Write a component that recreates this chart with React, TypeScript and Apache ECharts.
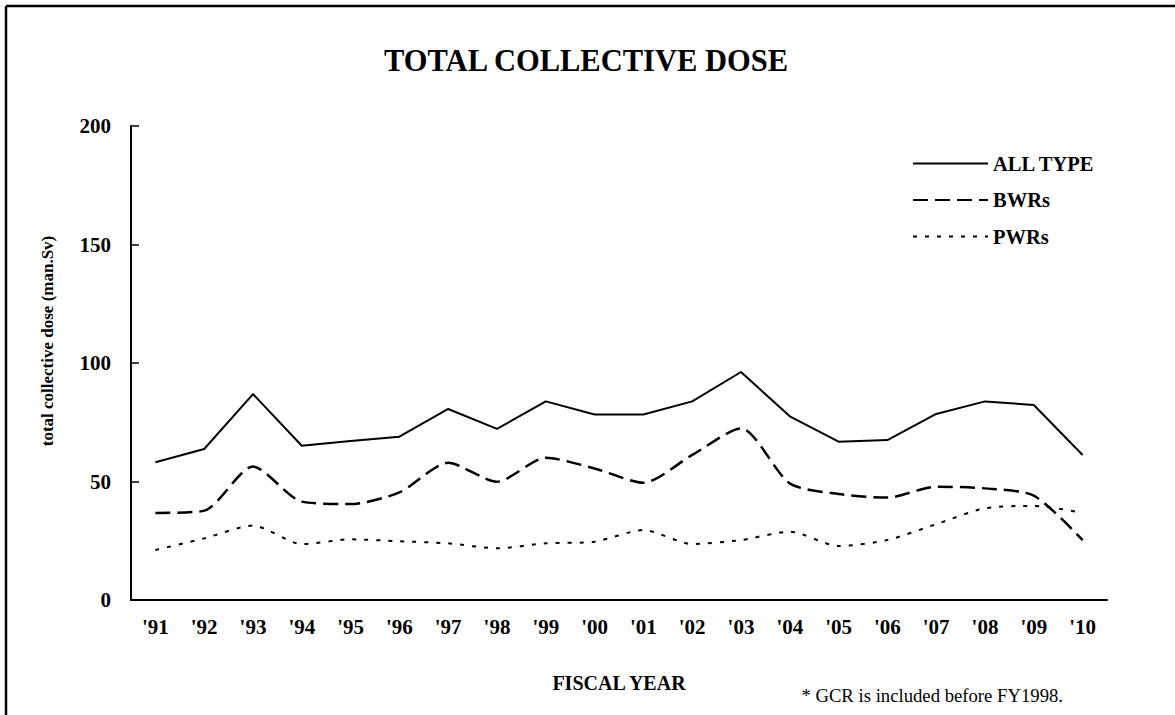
import React, { useEffect, useRef } from "react";
import * as echarts from "echarts";

const years = ["'91", "'92", "'93", "'94", "'95", "'96", "'97", "'98", "'99", "'00", "'01", "'02", "'03", "'04", "'05", "'06", "'07", "'08", "'09", "'10"];
const allType = [58.1, 63.7, 86.9, 65.1, 67.1, 68.9, 80.6, 72.2, 83.8, 78.3, 78.3, 83.8, 96.2, 77.5, 66.8, 67.5, 78.5, 83.8, 82.3, 61.2];
const bwrs = [36.7, 37.7, 56.3, 41.5, 40.5, 45.4, 57.9, 49.9, 60.0, 55.5, 49.5, 61.2, 72.4, 49.2, 44.7, 43.2, 47.8, 47.1, 44.0, 25.3];
const pwrs = [21.1, 26.0, 31.4, 23.6, 25.6, 24.8, 23.9, 21.8, 23.9, 24.6, 29.5, 23.6, 25.3, 28.8, 22.8, 25.3, 32.0, 38.7, 39.7, 36.8];
const seriesNames = ["ALL TYPE", "BWRs", "PWRs"];

const FONT = "'Liberation Serif', 'Times New Roman', serif";

export default function App() {
  const ref = useRef<HTMLDivElement>(null);
  useEffect(() => {
    if (!ref.current) return;
    const chart = echarts.init(ref.current, null, { renderer: "svg" });
    chart.setOption({
      animation: false,
      backgroundColor: "#fff",
      textStyle: { fontFamily: FONT, color: "#000" },
      title: {
        text: "TOTAL COLLECTIVE DOSE",
        left: 581,
        top: 40,
        textAlign: "center",
        textStyle: { fontFamily: FONT, fontSize: 30.5, fontWeight: "bold", color: "#000" },
      },
      legend: {
        orient: "vertical",
        left: 907,
        top: 148,
        itemWidth: 75,
        itemHeight: 20,
        itemGap: 15.5,
        data: seriesNames,
        itemStyle: { opacity: 0 },
        textStyle: { fontFamily: FONT, fontSize: 20.5, fontWeight: "bold", color: "#000" },
      },
      grid: { left: 131, right: 68, top: 126, bottom: 115, containLabel: false },
      xAxis: {
        type: "category",
        data: years,
        boundaryGap: true,
        axisLine: { lineStyle: { color: "#000", width: 2 } },
        axisTick: { inside: true, length: 6, lineStyle: { color: "#000", width: 1.5 } },
        axisLabel: { margin: 16, fontFamily: FONT, fontSize: 21, fontWeight: "bold", color: "#000", interval: 0 },
        name: "FISCAL YEAR",
        nameLocation: "middle",
        nameGap: 73,
        nameTextStyle: { fontFamily: FONT, fontSize: 20, fontWeight: "bold", color: "#000" },
      },
      yAxis: {
        type: "value",
        min: 0,
        max: 200,
        interval: 50,
        splitLine: { show: false },
        axisLine: { show: true, lineStyle: { color: "#000", width: 2 } },
        axisTick: { show: true, inside: true, length: 8, lineStyle: { color: "#000", width: 1.5 } },
        axisLabel: { margin: 20, fontFamily: FONT, fontSize: 21, fontWeight: "bold", color: "#000" },
      },
      graphic: [
        {
          type: "text",
          x: 47,
          y: 341,
          rotation: Math.PI / 2,
          style: {
            text: "total collective dose (man.Sv)",
            fontFamily: FONT,
            fontSize: 17,
            fontWeight: "bold",
            fill: "#000",
            align: "center",
            verticalAlign: "middle",
          },
        },
        {
          type: "text",
          x: 1063,
          y: 695,
          style: {
            text: "* GCR is included before FY1998.",
            fontFamily: FONT,
            fontSize: 18.7,
            fill: "#000",
            align: "right",
            verticalAlign: "middle",
          },
        },
        { type: "line", shape: { x1: 6, y1: 6, x2: 1175, y2: 6 }, style: { stroke: "#000", lineWidth: 2.5 } },
        { type: "line", shape: { x1: 6, y1: 6, x2: 6, y2: 715 }, style: { stroke: "#000", lineWidth: 2.5 } },
      ],
      series: [
        {
          name: seriesNames[0],
          type: "line",
          data: allType,
          symbol: "none",
          color: "#000",
          lineStyle: { color: "#000", width: 2, type: "solid" },
        },
        {
          name: seriesNames[1],
          type: "line",
          data: bwrs,
          symbol: "none",
          smooth: 0.25,
          color: "#000",
          lineStyle: { color: "#000", width: 2.5, type: [15, 7] },
        },
        {
          name: seriesNames[2],
          type: "line",
          data: pwrs,
          symbol: "none",
          smooth: 0.25,
          color: "#000",
          lineStyle: { color: "#000", width: 2, type: [4, 8] },
        },
      ],
    });
    return () => chart.dispose();
  }, []);
  return (
    <div
      ref={ref}
      style={{ position: "fixed", left: 0, top: 0, width: 1175, height: 715, background: "#fff" }}
    />
  );
}
